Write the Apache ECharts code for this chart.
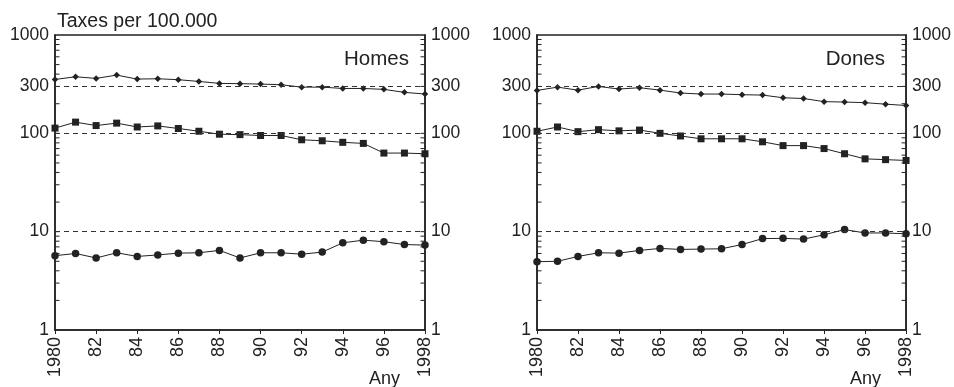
<!DOCTYPE html>
<html>
<head>
<meta charset="utf-8">
<script src="https://cdn.jsdelivr.net/npm/echarts@6/dist/echarts.min.js"></script>
<style>
html,body{margin:0;padding:0;background:#fff;}
#c{width:954px;height:387px;}
</style>
</head>
<body>
<div id="c"></div>
<script>
// ---- data ----
var years = [1980,1981,1982,1983,1984,1985,1986,1987,1988,1989,1990,1991,1992,1993,1994,1995,1996,1997,1998];

var homesDiamond = [353,376,362,391,356,359,351,337,322,320,317,312,295,295,286,286,280,261,251];
var homesSquare  = [113,130,120,127,116,119,112,105,98,97,95,95,86,84,81,79,63,63,62];
var homesCircle  = [5.7,6.0,5.4,6.1,5.6,5.8,6.05,6.1,6.45,5.4,6.1,6.1,5.9,6.2,7.7,8.2,7.9,7.4,7.3];

var donesDiamond = [273,295,275,300,282,291,275,257,251,251,247,245,230,226,210,208,205,198,192];
var donesSquare  = [105,116,104,109,106,108,100,94,88,88,88,82,75,75,70,62,55,54,53];
var donesCircle  = [4.95,5.0,5.6,6.1,6.05,6.45,6.75,6.6,6.65,6.7,7.4,8.5,8.55,8.4,9.3,10.5,9.7,9.7,9.5];

var yLabelValues = [1,10,100,300,1000];
var yTickValues = [2,3,4,5,6,7,8,9,10,20,30,40,50,60,70,80,90,100,200,300,400,500,600,700,800,900];
var refLines = [10,100,300];
var xTickLabels = {1980:'1980',1982:'82',1984:'84',1986:'86',1988:'88',1990:'90',1992:'92',1994:'94',1996:'96',1998:'1998'};

var panelTitles = ['Homes','Dones'];
var yAxisTitle = 'Taxes per 100.000';
var xAxisTitle = 'Any';

// ---- chart ----
var FONT = "'Liberation Sans', Arial, Helvetica, sans-serif";
var INK = '#222';

function pairs(vals){ return years.map(function(y,i){ return [y, vals[i]]; }); }

var grids = [
  {left:55, top:35, width:370, height:295, show:true, borderColor:INK, borderWidth:1.5, backgroundColor:'transparent'},
  {left:537, top:35, width:370, height:295, show:true, borderColor:INK, borderWidth:1.5, backgroundColor:'transparent'}
];

function xAxisFor(g){
  return {
    type:'value', gridIndex:g, min:1980, max:1998, interval:2,
    axisLine:{show:true, onZero:false, lineStyle:{color:INK, width:1.5}},
    axisTick:{show:true, inside:false, length:4, lineStyle:{color:INK, width:1}},
    splitLine:{show:false},
    axisLabel:{rotate:90, margin:7, color:INK, fontSize:18, fontFamily:FONT,
      formatter:function(v){ return xTickLabels[v] || ''; }}
  };
}
function yAxisFor(g, pos){
  return {
    type:'log', gridIndex:g, position:pos, min:1, max:1000, logBase:10,
    axisLine:{show:true, onZero:false, lineStyle:{color:INK, width:1.5}},
    axisTick:{show:false},
    splitLine:{show:false},
    minorTick:{show:false},
    axisLabel:{margin:6, color:INK, fontSize:17.5, fontFamily:FONT, customValues:yLabelValues,
      formatter:function(v){ return String(Math.round(v)); }}
  };
}

function lineSeries(g, vals, symbol, size, withRefs){
  var s = {
    type:'line', xAxisIndex:g, yAxisIndex:g*2, data:pairs(vals),
    symbol:symbol, symbolSize:size, showAllSymbol:true,
    lineStyle:{color:INK, width:1}, itemStyle:{color:INK},
    animation:false, silent:true, z:3
  };
  if (withRefs){
    s.markLine = {
      silent:true, symbol:['none','none'], animation:false,
      label:{show:false},
      lineStyle:{color:'#333', width:1, type:[5,4]},
      data: refLines.map(function(v){ return {yAxis:v}; })
    };
  }
  return s;
}

// inward ticks on both y axes, placed by the log scale
function tickSeries(g){
  return {
    type:'custom', xAxisIndex:g, yAxisIndex:g*2, animation:false, silent:true, clip:false, z:4,
    data: yTickValues.map(function(v){ return [1980, v]; }),
    encode:{x:0, y:1},
    renderItem:function(params, api){
      var v = api.value(1);
      var pL = api.coord([1980, v]);
      var pR = api.coord([1998, v]);
      return {type:'group', children:[
        {type:'line', shape:{x1:pL[0], y1:pL[1], x2:pL[0]+4.5, y2:pL[1]}, style:{stroke:INK, lineWidth:1}},
        {type:'line', shape:{x1:pR[0], y1:pR[1], x2:pR[0]-4.5, y2:pR[1]}, style:{stroke:INK, lineWidth:1}}
      ]};
    }
  };
}

var option = {
  backgroundColor:'#fff',
  textStyle:{fontFamily:FONT},
  grid: grids,
  xAxis: [xAxisFor(0), xAxisFor(1)],
  yAxis: [yAxisFor(0,'left'), yAxisFor(0,'right'), yAxisFor(1,'left'), yAxisFor(1,'right')],
  series: [
    lineSeries(0, homesCircle, 'circle', 7.5, true),
    lineSeries(0, homesSquare, 'rect', 7, false),
    lineSeries(0, homesDiamond, 'diamond', 6.5, false),
    lineSeries(1, donesCircle, 'circle', 7.5, true),
    lineSeries(1, donesSquare, 'rect', 7, false),
    lineSeries(1, donesDiamond, 'diamond', 6.5, false),
    tickSeries(0),
    tickSeries(1)
  ],
  graphic: [
    {type:'text', x:57, y:22, style:{text:yAxisTitle, fill:INK, font:'19.5px '+FONT, textAlign:'left', textVerticalAlign:'middle', align:'left', verticalAlign:'middle'}},
    {type:'text', x:409, y:59, style:{text:panelTitles[0], fill:INK, font:'20.5px '+FONT, textAlign:'right', textVerticalAlign:'middle', align:'right', verticalAlign:'middle'}},
    {type:'text', x:885, y:59, style:{text:panelTitles[1], fill:INK, font:'20.5px '+FONT, textAlign:'right', textVerticalAlign:'middle', align:'right', verticalAlign:'middle'}},
    {type:'text', x:400, y:379, style:{text:xAxisTitle, fill:INK, font:'18px '+FONT, textAlign:'right', textVerticalAlign:'middle', align:'right', verticalAlign:'middle'}},
    {type:'text', x:881, y:379, style:{text:xAxisTitle, fill:INK, font:'18px '+FONT, textAlign:'right', textVerticalAlign:'middle', align:'right', verticalAlign:'middle'}}
  ]
};

var chart = echarts.init(document.getElementById('c'), null, {renderer:'canvas'});
chart.setOption(option);
</script>
</body>
</html>
